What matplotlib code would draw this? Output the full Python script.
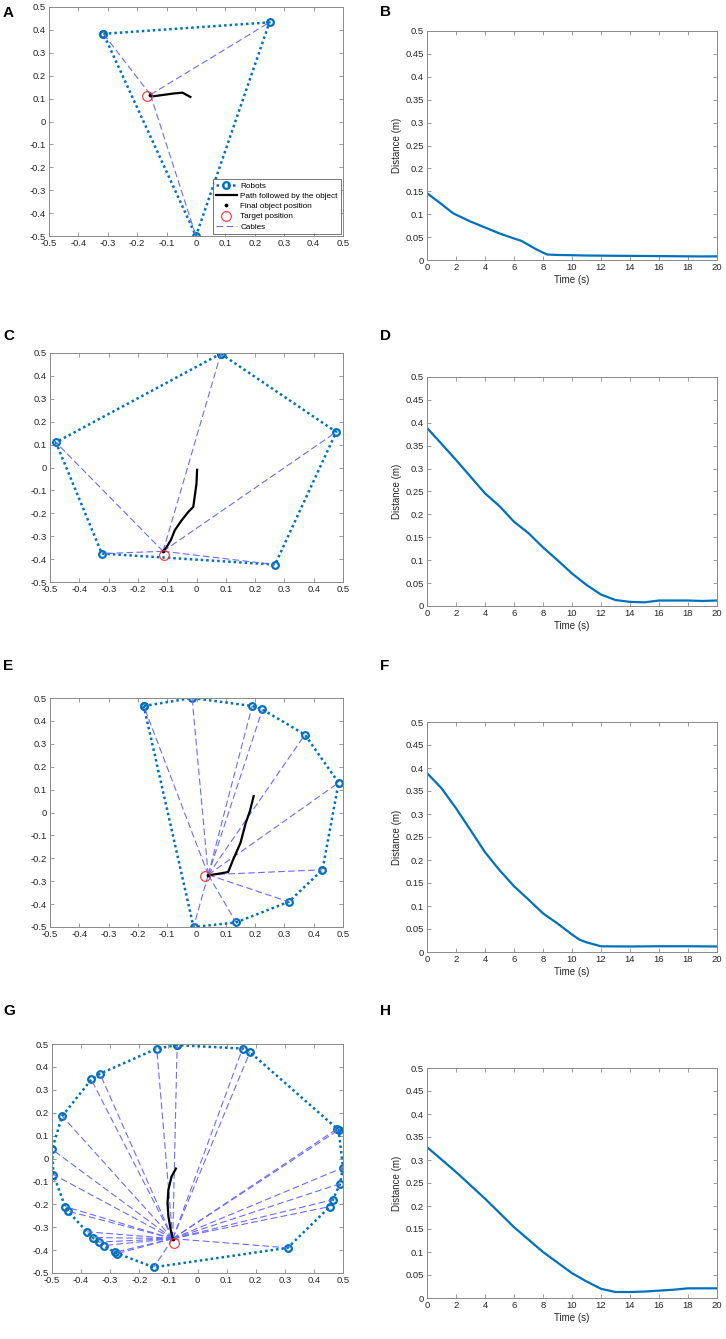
import numpy as np
import matplotlib
matplotlib.use('Agg')
import matplotlib.pyplot as plt
from matplotlib.ticker import FuncFormatter

plt.rcParams['font.family'] = ['Liberation Sans', 'DejaVu Sans']
plt.rcParams['axes.unicode_minus'] = False

############################################### data, workspace panels
robots_a = [(-0.315, 0.383), (0.25, 0.433), (0.0, -0.5)]
target_a = (-0.165, 0.11)
final_a = (-0.155, 0.117)
path_a_x = [-0.019, -0.046, -0.078, -0.112, -0.146, -0.155]
path_a_y = [0.107, 0.126, 0.122, 0.116, 0.110, 0.117]

robots_c = [(0.083, 0.497), (0.477, 0.155), (0.268, -0.424), (-0.323, -0.376), (-0.48, 0.11)]
target_c = (-0.11, -0.38)
final_c = (-0.114, -0.366)
path_c_x = [0.002, 0.0, -0.011, -0.028, -0.051, -0.074, -0.088, -0.102, -0.114]
path_c_y = [-0.01, -0.07, -0.172, -0.194, -0.231, -0.274, -0.318, -0.347, -0.366]

robots_e = [(-0.18, 0.465), (-0.015, 0.5), (0.19, 0.465), (0.225, 0.45), (0.37, 0.34),
            (0.485, 0.13), (0.43, -0.25), (0.315, -0.39), (0.135, -0.48), (-0.01, -0.5)]
target_e = (0.028, -0.279)
final_e = (0.04, -0.272)
path_e_x = [0.195, 0.182, 0.168, 0.15, 0.125, 0.108, 0.068, 0.04]
path_e_y = [0.071, 0.005, -0.046, -0.133, -0.206, -0.26, -0.269, -0.274]

robots_g = [(-0.07, 0.495), (-0.14, 0.48), (-0.335, 0.37), (-0.365, 0.345), (-0.465, 0.185),
            (-0.5, 0.04), (-0.495, -0.07), (-0.455, -0.21), (-0.445, -0.23), (-0.38, -0.32),
            (-0.36, -0.345), (-0.34, -0.365), (-0.32, -0.38), (-0.285, -0.41), (-0.275, -0.415),
            (-0.15, -0.475), (0.31, -0.39), (0.455, -0.21), (0.465, -0.18), (0.49, -0.11),
            (0.5, -0.04), (0.485, 0.125), (0.48, 0.13), (0.18, 0.465), (0.155, 0.48)]
target_g = (-0.08, -0.37)
final_g = (-0.085, -0.35)
path_g_x = [-0.074, -0.089, -0.1, -0.103, -0.1, -0.092, -0.085]
path_g_y = [-0.044, -0.078, -0.136, -0.194, -0.253, -0.311, -0.35]

############################################### data, distance panels
t_b = [0, 1, 1.8, 2, 3, 4, 5, 6, 6.5, 7, 7.5, 8, 8.3, 9, 10, 11, 12, 13, 14, 15, 16, 17, 18, 19, 20]
d_b = [0.146, 0.122, 0.102, 0.099, 0.084, 0.071, 0.058, 0.047, 0.042, 0.033, 0.024, 0.016, 0.012,
       0.011, 0.0105, 0.0098, 0.0095, 0.0092, 0.009, 0.0088, 0.0085, 0.0083, 0.008, 0.0078, 0.008]

t_d = [0, 2, 4, 5, 6, 7, 8, 9, 10, 11, 12, 13, 14, 15, 16, 17, 18, 19, 20]
d_d = [0.389, 0.319, 0.246, 0.218, 0.184, 0.159, 0.128, 0.100, 0.071, 0.046, 0.025, 0.013,
       0.009, 0.008, 0.012, 0.012, 0.012, 0.011, 0.012]

t_f = [0, 1, 2, 3, 4, 5, 6, 7, 8, 9, 10, 10.5, 11, 12, 14, 16, 18, 20]
d_f = [0.389, 0.356, 0.3125, 0.265, 0.217, 0.178, 0.143, 0.114, 0.084, 0.062, 0.038, 0.027,
       0.021, 0.0124, 0.012, 0.0125, 0.0125, 0.012]

t_h = [0, 2, 4, 6, 8, 10, 11, 12, 13, 14, 15, 16, 17, 18, 20]
d_h = [0.328, 0.274, 0.216, 0.154, 0.100, 0.054, 0.036, 0.020, 0.013, 0.013, 0.014, 0.016,
       0.018, 0.021, 0.021]

ws_ticks = [-0.5, -0.4, -0.3, -0.2, -0.1, 0, 0.1, 0.2, 0.3, 0.4, 0.5]
time_ticks = [0, 2, 4, 6, 8, 10, 12, 14, 16, 18, 20]
dist_ticks = [0, 0.05, 0.1, 0.15, 0.2, 0.25, 0.3, 0.35, 0.4, 0.45, 0.5]

legend_labels = ['Robots', 'Path followed by the object', 'Final object position',
                 'Target position', 'Cables']

robot_col = '#0072BD'
cable_col = (0.42, 0.42, 1.0)
spine_col = '#8a8a8a'
text_col = '#262626'

fig = plt.figure(figsize=(7.26, 13.39), dpi=100)
W, H = 726.0, 1339.0
fmt = FuncFormatter(lambda v, p: '%g' % round(v, 4))


def px_axes(x0, y0, x1, y1):
    return fig.add_axes([x0 / W, 1 - y1 / H, (x1 - x0) / W, (y1 - y0) / H])


def style(ax):
    for s in ax.spines.values():
        s.set_color(spine_col)
        s.set_linewidth(0.7)
    ax.tick_params(direction='in', top=True, right=True, length=3, width=0.6,
                   color=spine_col, labelsize=6.8, labelcolor=text_col, pad=2)
    ax.xaxis.set_major_formatter(fmt)
    ax.yaxis.set_major_formatter(fmt)


def workspace(ax, robots, target, final, px, py, legend=False):
    rx = [r[0] for r in robots] + [robots[0][0]]
    ry = [r[1] for r in robots] + [robots[0][1]]
    h_rob, = ax.plot(rx, ry, ':', color=robot_col, lw=1.8, marker='o', ms=4.8,
                     mfc='none', mec=robot_col, mew=1.6, dashes=(1, 1.2))
    h_cab = None
    for r in robots:
        h_cab, = ax.plot([final[0], r[0]], [final[1], r[1]], '--', color=cable_col,
                         lw=0.8, dashes=(6, 3))
    h_path, = ax.plot(px, py, '-', color='k', lw=1.6)
    h_fin, = ax.plot(final[0], final[1], '.', color='k', ms=3.5)
    h_tar, = ax.plot(target[0], target[1], 'o', mfc='none', mec='#ff3030', ms=7, mew=0.8)
    ax.set_xlim(-0.5, 0.5)
    ax.set_ylim(-0.5, 0.5)
    ax.set_xticks(ws_ticks)
    ax.set_yticks(ws_ticks)
    style(ax)
    if legend:
        leg = ax.legend([h_rob, h_path, h_fin, h_tar, h_cab], legend_labels,
                        loc='lower right', fontsize=5.9, frameon=True, fancybox=False,
                        borderaxespad=0.3, labelspacing=0.3, handlelength=2.6,
                        handletextpad=0.4, borderpad=0.35)
        leg.get_frame().set_edgecolor('#555555')
        leg.get_frame().set_linewidth(0.7)


def distance(ax, t, d):
    ax.plot(t, d, '-', color=robot_col, lw=1.6)
    ax.set_xlim(0, 20)
    ax.set_ylim(0, 0.5)
    ax.set_xticks(time_ticks)
    ax.set_yticks(dist_ticks)
    style(ax)
    ax.set_xlabel('Time (s)', fontsize=7, color=text_col, labelpad=2)
    ax.set_ylabel('Distance (m)', fontsize=7, color=text_col, labelpad=3)


ax_a = px_axes(49, 7, 343, 236)
workspace(ax_a, robots_a, target_a, final_a, path_a_x, path_a_y, legend=True)
ax_b = px_axes(427, 31, 717, 260)
distance(ax_b, t_b, d_b)

ax_c = px_axes(50, 353, 343, 582)
workspace(ax_c, robots_c, target_c, final_c, path_c_x, path_c_y)
ax_d = px_axes(427, 377, 717, 606)
distance(ax_d, t_d, d_d)

ax_e = px_axes(50, 698, 343, 927)
workspace(ax_e, robots_e, target_e, final_e, path_e_x, path_e_y)
ax_f = px_axes(427, 722, 717, 952)
distance(ax_f, t_f, d_f)

ax_g = px_axes(52, 1044, 343, 1273)
workspace(ax_g, robots_g, target_g, final_g, path_g_x, path_g_y)
ax_h = px_axes(427, 1068, 717, 1298)
distance(ax_h, t_h, d_h)

############################################### panel letters
letters = ['A', 'B', 'C', 'D', 'E', 'F', 'G', 'H']
lx = [3, 380, 3, 380, 3, 380, 3, 380]
ly = [6, 5, 329, 329, 659, 659, 1004, 1004]
for k in range(len(letters)):
    fig.text(lx[k] / W, 1 - ly[k] / H, letters[k], fontsize=11, fontweight='bold',
             va='top', ha='left', color='k')

fig.savefig('out.png', dpi=100)
